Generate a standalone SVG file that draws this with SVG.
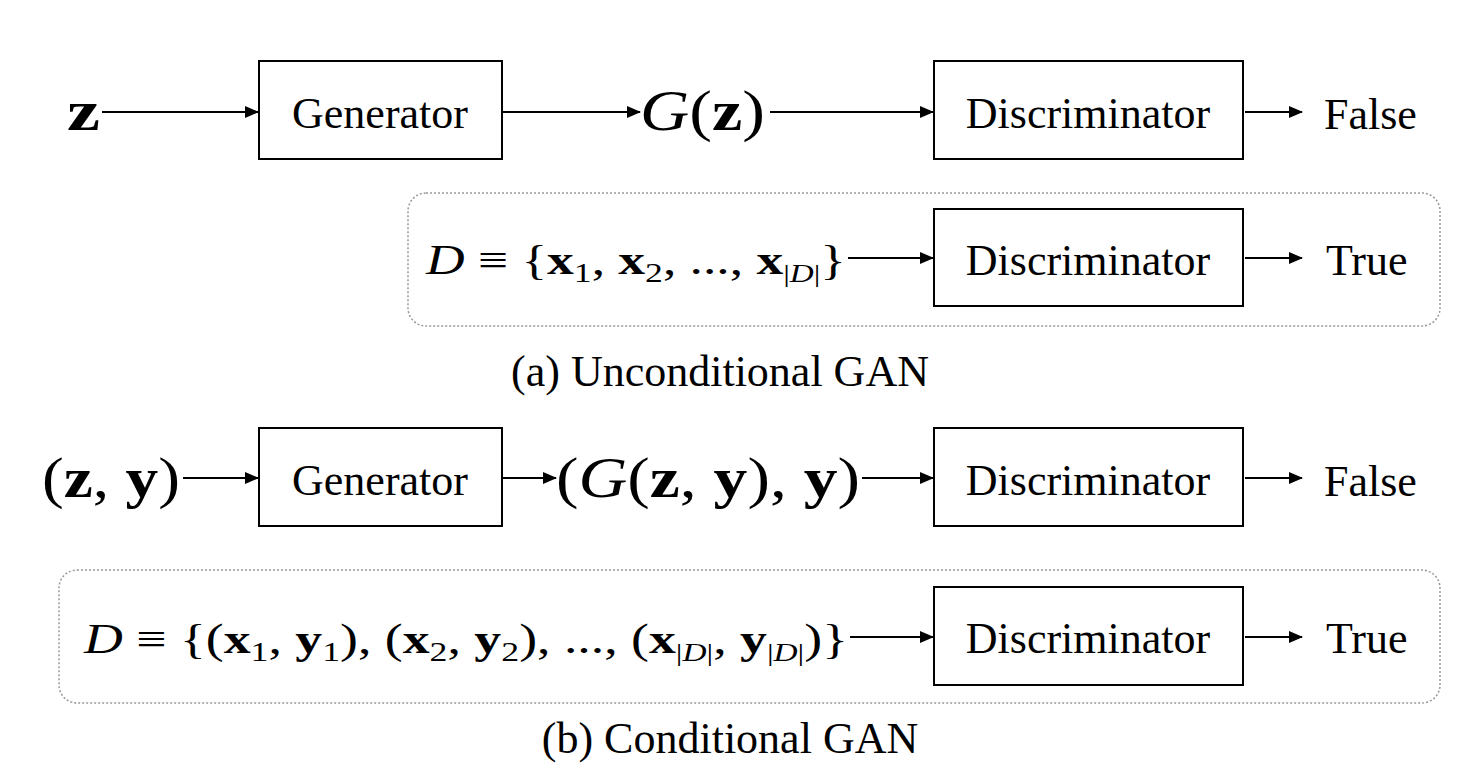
<svg xmlns="http://www.w3.org/2000/svg" width="1469" height="780" viewBox="0 0 1469 780">
<style>
.box{fill:#fff;stroke:#000;stroke-width:2}
.grp{fill:none;stroke:#999;stroke-width:1.5;stroke-dasharray:2 2}
.lbl{font-family:"Liberation Serif",serif;font-size:44px;fill:#000}
.m{font-family:"Liberation Serif",serif;font-size:56px;fill:#000}
.ms{font-family:"Liberation Serif",serif;font-size:42px;fill:#000}
.c{stroke:#000;stroke-width:2;fill:none;marker-end:url(#ah)}
</style>
<defs><marker id="ah" markerWidth="14" markerHeight="12" refX="13" refY="6" orient="auto" markerUnits="userSpaceOnUse"><path d="M0,0 L14,6 L0,12 z" fill="#000"/></marker></defs>
<rect class="grp" x="408" y="193" width="1032" height="133" rx="18"/>
<rect class="grp" x="59" y="570" width="1381" height="133" rx="18"/>
<g id="connectors">
<line class="c" x1="102" y1="112" x2="258" y2="112"/>
<line class="c" x1="503" y1="112" x2="640" y2="112"/>
<line class="c" x1="770" y1="112" x2="933" y2="112"/>
<line class="c" x1="1245" y1="112" x2="1302" y2="112"/>
<line class="c" x1="848" y1="258" x2="933" y2="258"/>
<line class="c" x1="1245" y1="258" x2="1302" y2="258"/>
<line class="c" x1="183" y1="478" x2="258" y2="478"/>
<line class="c" x1="503" y1="478" x2="556" y2="478"/>
<line class="c" x1="862" y1="478" x2="933" y2="478"/>
<line class="c" x1="1245" y1="478" x2="1302" y2="478"/>
<line class="c" x1="850" y1="637" x2="933" y2="637"/>
<line class="c" x1="1245" y1="637" x2="1302" y2="637"/>
</g>
<g id="z"><text class="m" x="67" y="130" font-weight="bold" textLength="33" lengthAdjust="spacingAndGlyphs">z</text></g>
<g id="gen1"><rect class="box" x="259" y="61" width="243" height="98"/><text class="lbl" x="380" y="128" text-anchor="middle">Generator</text></g>
<g id="gz"><text class="m" x="640" y="130" textLength="125" lengthAdjust="spacingAndGlyphs"><tspan font-style="italic">G</tspan>(<tspan font-weight="bold">z</tspan>)</text></g>
<g id="disc1"><rect class="box" x="934" y="61" width="309" height="98"/><text class="lbl" x="1088" y="128" text-anchor="middle">Discriminator</text></g>
<g id="false1"><text class="lbl" x="1324" y="129">False</text></g>
<g id="data1"><text class="ms" x="426" y="274" textLength="420" lengthAdjust="spacingAndGlyphs"><tspan font-style="italic">D</tspan> ≡ {<tspan font-weight="bold">x</tspan><tspan font-size="28" dy="8">1</tspan><tspan dy="-8">, </tspan><tspan font-weight="bold">x</tspan><tspan font-size="28" dy="8">2</tspan><tspan dy="-8">, ..., </tspan><tspan font-weight="bold">x</tspan><tspan font-size="26" dy="8">|<tspan font-style="italic">D</tspan>|</tspan><tspan dy="-8">}</tspan></text></g>
<g id="disc2"><rect class="box" x="934" y="209" width="309" height="97"/><text class="lbl" x="1088" y="275" text-anchor="middle">Discriminator</text></g>
<g id="true1"><text class="lbl" x="1326" y="275">True</text></g>
<text class="lbl" x="720" y="386" text-anchor="middle">(a) Unconditional GAN</text>
<g id="zy"><text class="m" x="42" y="497" textLength="138" lengthAdjust="spacingAndGlyphs">(<tspan font-weight="bold">z</tspan>, <tspan font-weight="bold">y</tspan>)</text></g>
<g id="gen2"><rect class="box" x="259" y="428" width="243" height="98"/><text class="lbl" x="380" y="495" text-anchor="middle">Generator</text></g>
<g id="gzy"><text class="m" x="556" y="497" textLength="304" lengthAdjust="spacingAndGlyphs">(<tspan font-style="italic">G</tspan>(<tspan font-weight="bold">z</tspan>, <tspan font-weight="bold">y</tspan>), <tspan font-weight="bold">y</tspan>)</text></g>
<g id="disc3"><rect class="box" x="934" y="428" width="309" height="98"/><text class="lbl" x="1088" y="495" text-anchor="middle">Discriminator</text></g>
<g id="false2"><text class="lbl" x="1324" y="496">False</text></g>
<g id="data2"><text class="ms" x="84" y="653" textLength="764" lengthAdjust="spacingAndGlyphs"><tspan font-style="italic">D</tspan> ≡ {(<tspan font-weight="bold">x</tspan><tspan font-size="28" dy="8">1</tspan><tspan dy="-8">, </tspan><tspan font-weight="bold">y</tspan><tspan font-size="28" dy="8">1</tspan><tspan dy="-8">), (</tspan><tspan font-weight="bold">x</tspan><tspan font-size="28" dy="8">2</tspan><tspan dy="-8">, </tspan><tspan font-weight="bold">y</tspan><tspan font-size="28" dy="8">2</tspan><tspan dy="-8">), ..., (</tspan><tspan font-weight="bold">x</tspan><tspan font-size="26" dy="8">|<tspan font-style="italic">D</tspan>|</tspan><tspan dy="-8">, </tspan><tspan font-weight="bold">y</tspan><tspan font-size="26" dy="8">|<tspan font-style="italic">D</tspan>|</tspan><tspan dy="-8">)}</tspan></text></g>
<g id="disc4"><rect class="box" x="934" y="587" width="309" height="98"/><text class="lbl" x="1088" y="653" text-anchor="middle">Discriminator</text></g>
<g id="true2"><text class="lbl" x="1326" y="653">True</text></g>
<text class="lbl" x="730" y="753" text-anchor="middle">(b) Conditional GAN</text>
</svg>
